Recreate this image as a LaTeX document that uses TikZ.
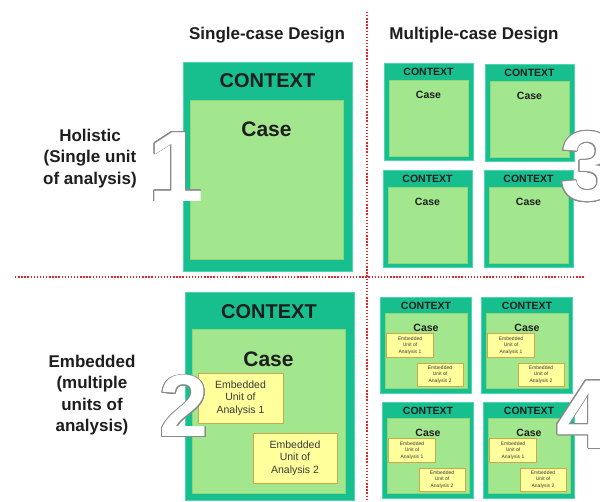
\documentclass[tikz,border=0pt]{standalone}
\usepackage{fontspec}
\setmainfont{Liberation Sans}
\usepackage[copies]{contour}
\contourlength{0.7pt}
\contournumber{24}

\definecolor{ctxgreen}{HTML}{17BF8E}
\definecolor{ctxedge}{HTML}{4AD6AE}
\definecolor{casegreen}{HTML}{A2E68E}
\definecolor{caseedge}{HTML}{8DD67C}
\definecolor{unityellow}{HTML}{FFFF9C}
\definecolor{unitedge}{HTML}{C9A94E}
\definecolor{inkgray}{HTML}{1E1E1E}
\definecolor{unitink}{HTML}{3A3A3A}
\definecolor{digitgray}{HTML}{8A8A8A}
\definecolor{divred}{HTML}{E3262C}

\tikzset{
  panel/.style={anchor=north west, inner sep=0pt, outer sep=0pt},
  ctxbox/.style={panel, draw=ctxedge, fill=ctxgreen, line width=0.8pt},
  casebox/.style={panel, draw=caseedge, fill=casegreen, line width=0.5pt},
  unitbox/.style={panel, draw=unitedge, fill=unityellow, line width=0.7pt},
  divider/.style={draw=divred, line width=1.6pt, dash pattern=on 1.4pt off 1.7pt},
  label/.style={inner sep=0pt, text=inkgray, align=center},
  title/.style={label, font=\bfseries\fontsize{17}{20.5}\selectfont},
  rowlabel/.style={label, font=\bfseries\fontsize{17}{21.5}\selectfont},
  bigctx/.style={label, font=\bfseries\fontsize{20}{20}\selectfont},
  bigcase/.style={label, font=\bfseries\fontsize{21}{21}\selectfont},
  smallctx/.style={label, font=\bfseries\fontsize{10.5}{10.5}\selectfont},
  smallcase/.style={label, font=\bfseries\fontsize{10.5}{10.5}\selectfont},
  bigunit/.style={label, text=unitink, font=\fontsize{10.5}{12.5}\selectfont},
  tinyunit/.style={label, text=unitink, font=\fontsize{5}{6.5}\selectfont},
  digit/.style={inner sep=0pt, text=white},
}

% a rectangle node given by its top-left corner, width and height
\newcommand\panelat[6]{%
  \node[#1, minimum width=#5pt, minimum height=#6pt] (#2) at (#3,#4) {};}

% one small context/case box of the multiple-case column (holistic)
\newcommand\holibox[3]{%
  \panelat{ctxbox}{#1-ctx}{#2}{#3}{89}{97}
  \panelat{casebox}{#1-case}{#2+5}{#3+17}{79}{76}
  \node[smallctx] (#1-ctxtext) at (#2+44.5,#3+9) {CONTEXT};
  \node[smallcase] (#1-casetext) at (#2+44.5,#3+32) {Case};}

% one small context/case box with two embedded units
\newcommand\embbox[3]{%
  \panelat{ctxbox}{#1-ctx}{#2}{#3}{91}{96}
  \panelat{casebox}{#1-case}{#2+5}{#3+16}{82}{75}
  \node[smallctx] (#1-ctxtext) at (#2+46,#3+8.5) {CONTEXT};
  \node[smallcase] (#1-casetext) at (#2+46,#3+31) {Case};
  \panelat{unitbox}{#1-u1}{#2+6.5}{#3+36.5}{47}{24}
  \panelat{unitbox}{#1-u2}{#2+37}{#3+66}{46}{23}
  \node[tinyunit] (#1-u1text) at (#1-u1.center) {Embedded\\Unit of\\Analysis 1};
  \node[tinyunit] (#1-u2text) at (#1-u2.center) {Embedded\\Unit of\\Analysis 2};}

\begin{document}
\begin{tikzpicture}[x=1pt, y=-1pt]
  \useasboundingbox[fill=white] (0,0) rectangle (600,502);

  % column titles
  \node[title] (single) at (267,35) {Single-case Design};
  \node[title] (multiple) at (474,35) {Multiple-case Design};

  % row titles
  \node[rowlabel] (holistic) at (90,158.5) {Holistic\\(Single unit\\of analysis)};
  \node[rowlabel] (embedded) at (92,395) {Embedded\\(multiple\\units of\\analysis)};

  % quadrant dividers
  \coordinate (vtop) at (367,12);
  \coordinate (vbot) at (367,502);
  \coordinate (hleft) at (15,277);
  \coordinate (hright) at (585,277);
  \draw[divider] (vtop) -- (vbot);
  \draw[divider] (hleft) -- (hright);

  % type 1: single case, holistic
  \panelat{ctxbox}{one-ctx}{183}{62}{169}{209}
  \panelat{casebox}{one-case}{190}{100}{153}{159}
  \node[bigctx] (one-ctxtext) at (267.5,81) {CONTEXT};
  \node[bigcase] (one-casetext) at (266.5,129) {Case};

  % type 2: single case, embedded
  \panelat{ctxbox}{two-ctx}{185}{292}{169}{208}
  \panelat{casebox}{two-case}{192}{329}{153}{164}
  \node[bigctx] (two-ctxtext) at (269,312) {CONTEXT};
  \node[bigcase] (two-casetext) at (268.5,359) {Case};
  \panelat{unitbox}{two-u1}{198}{373}{85}{50}
  \panelat{unitbox}{two-u2}{253}{433}{84}{50}
  \node[bigunit] (two-u1text) at (two-u1.center) {Embedded\\Unit of\\Analysis 1};
  \node[bigunit] (two-u2text) at (two-u2.center) {Embedded\\Unit of\\Analysis 2};

  % type 3: multiple cases, holistic
  \holibox{threeA}{384}{63}
  \holibox{threeB}{485}{64}
  \holibox{threeC}{383}{170}
  \holibox{threeD}{484}{170}

  % type 4: multiple cases, embedded
  \embbox{fourA}{380}{297}
  \embbox{fourB}{481}{297}
  \embbox{fourC}{382}{402}
  \embbox{fourD}{483}{402}

  % outlined design-type numbers
  \node[digit, font=\bfseries\fontsize{100}{100}\selectfont] (num1) at (176,167) {\contour{digitgray}{1}};
  \node[digit, font=\bfseries\fontsize{88}{88}\selectfont] (num2) at (184,406.5) {\contour{digitgray}{2}};
  \node[digit, font=\bfseries\fontsize{99}{99}\selectfont, anchor=west] (num3) at (560,167) {\contour{digitgray}{3}};
  \node[digit, font=\bfseries\fontsize{98}{98}\selectfont, anchor=west] (num4) at (556,415) {\contour{digitgray}{4}};
\end{tikzpicture}
\end{document}
